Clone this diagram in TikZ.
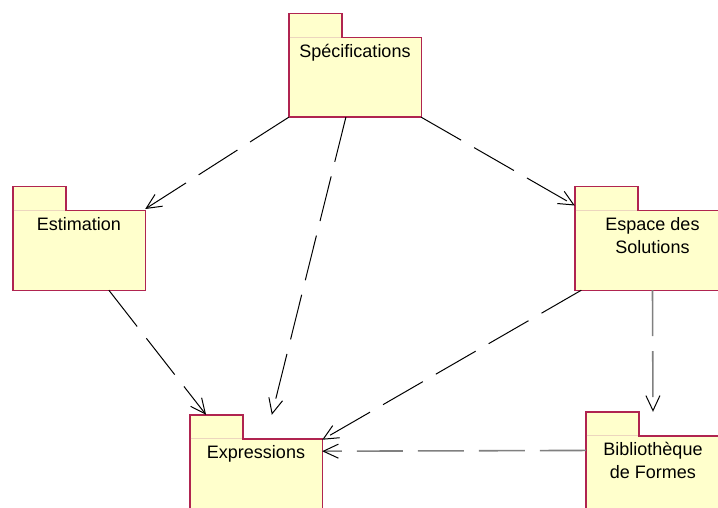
\documentclass[tikz,border=0pt]{standalone}
\usepackage{fontspec}
\setmainfont{Liberation Sans}
\usetikzlibrary{arrows.meta}

\definecolor{pkgfill}{RGB}{255,255,204}
\definecolor{pkgedge}{RGB}{176,36,80}
\definecolor{tabsep}{RGB}{236,214,190}
\definecolor{flowgray}{RGB}{128,128,128}

\tikzset{
  pkg/.style={rectangle, inner sep=0pt, minimum height=103pt},
  pkgbody/.style={draw=pkgedge, fill=pkgfill, line width=1.4pt, line join=miter},
  lbl/.style={anchor=base, align=center, inner sep=0pt, font=\fontsize{18}{23}\selectfont},
  dep/.style={draw=black, line width=1pt, dash pattern=on 46pt off 15pt,
    -{Straight Barb[length=15pt,width=14pt,black,line width=1pt]}},
  depgray/.style={dep, draw=flowgray, line width=1.6pt}
}

% #1 node, #2 tab width
\newcommand\drawpkg[2]{%
  \draw[pkgbody] (#1.south west) -- (#1.north west) -- ++(#2,0) -- ++(0,24)
    -- ([yshift=-24pt]#1.north east) -- (#1.south east) -- cycle;
  \draw[tabsep, line width=0.8pt] ([yshift=-24pt,xshift=0.8pt]#1.north west) -- ++(#2-1.6,0);
}

\begin{document}
\begin{tikzpicture}[x=1pt,y=-1pt]
\useasboundingbox (0,0) rectangle (718,508);
\clip (0,0) rectangle (718,508);

\node[pkg, minimum width=132pt] (spec) at (355,65.5) {};
\node[pkg, minimum width=132pt] (estim) at (79,238.5) {};
\node[pkg, minimum width=155pt] (espace) at (652.5,238.5) {};
\node[pkg, minimum width=132pt] (expr) at (256,466.5) {};
\node[pkg, minimum width=134pt] (biblio) at (653,463.5) {};

\drawpkg{spec}{53}
\drawpkg{estim}{53}
\drawpkg{espace}{63}
\drawpkg{expr}{53}
\drawpkg{biblio}{53}

% two-line labels sit on their last baseline
\node[lbl] (specl) at ([yshift=-43.5pt]spec.north) {Spécifications};
\node[lbl] (estiml) at ([yshift=-43.5pt]estim.north) {Estimation};
\node[lbl] (espacel) at ([yshift=-66.5pt]espace.north) {Espace des\\Solutions};
\node[lbl] (exprl) at ([yshift=-43.5pt]expr.north) {Expressions};
\node[lbl] (bibliol) at ([yshift=-66.5pt]biblio.north) {Bibliothèque\\de Formes};

\draw[dep] (spec.south west) -- (estim.24);
\draw[dep] (spec.260) -- (expr.73);
\draw[dep] (spec.south east) -- (espace.157);
\draw[dep] (estim.300) -- (expr.134);
\draw[dep] (espace.216) -- (expr.22);
\draw[depgray] (espace.south) -- (biblio.north);
\draw[depgray] (biblio.169) -- (expr.13);
\end{tikzpicture}
\end{document}
